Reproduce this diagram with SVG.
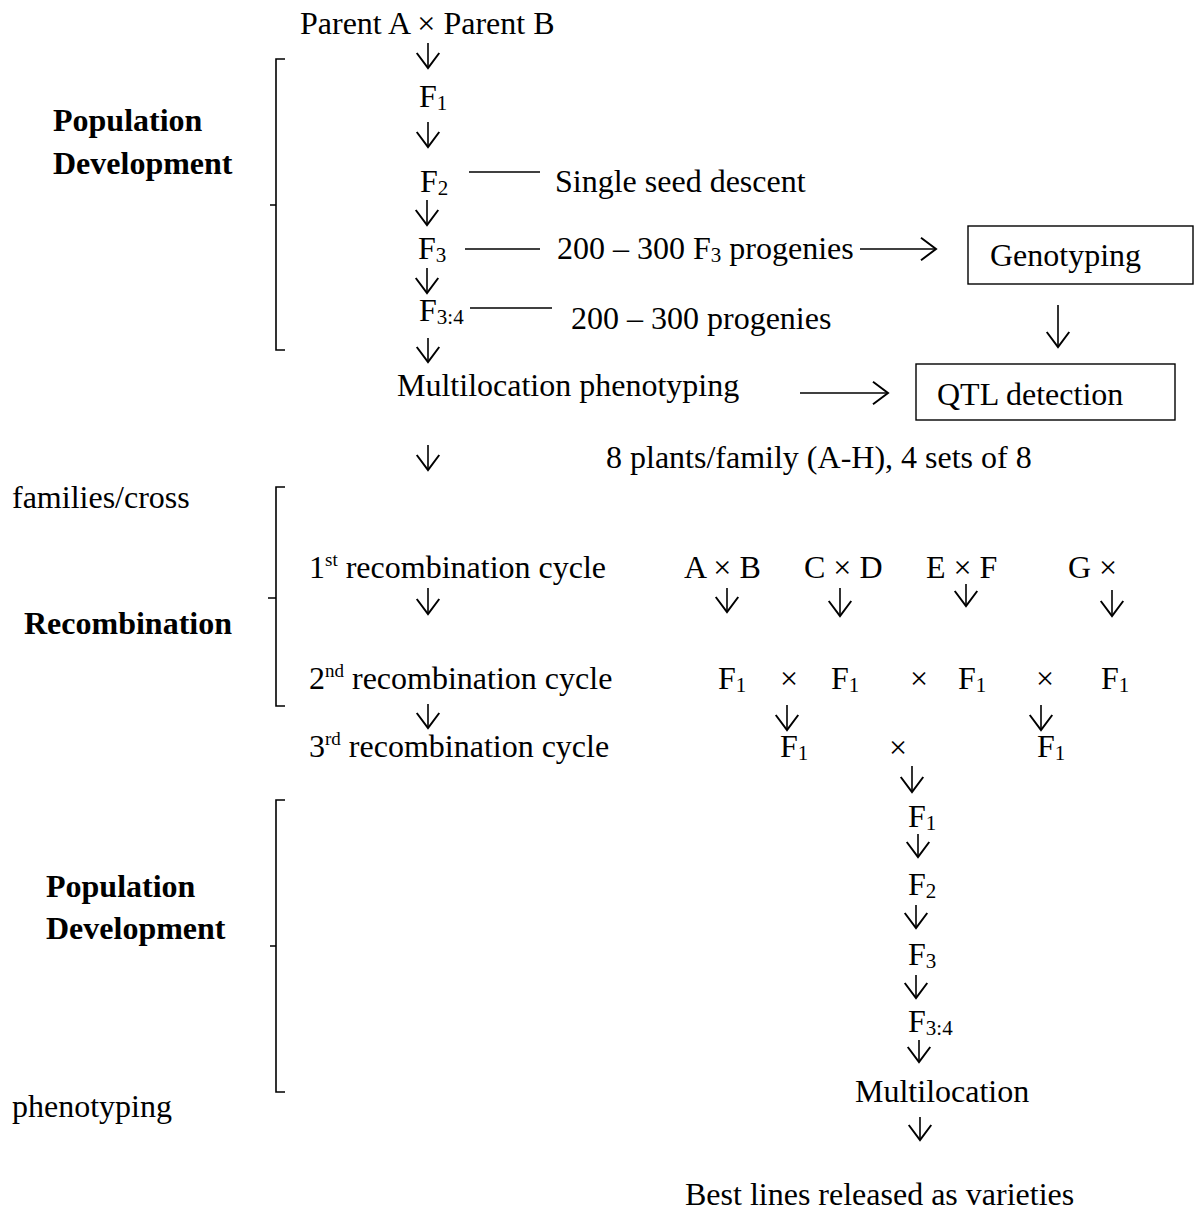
<svg xmlns="http://www.w3.org/2000/svg" width="1199" height="1218" viewBox="0 0 1199 1218">
<style>
text{font-family:"Liberation Serif","Times New Roman",serif;font-size:32px;fill:#000}
.b{font-weight:bold}
.sub{font-size:21px}
.sup{font-size:19px}
.c line,.c path{stroke:#000;stroke-width:1.6;fill:none}
.box{fill:#fff;stroke:#000;stroke-width:1.4}
</style>
<defs>
<marker id="ah" markerUnits="userSpaceOnUse" markerWidth="30" markerHeight="30" viewBox="-14 -12 16 24" refX="0" refY="0" orient="auto">
<path d="M-12,-9 L0,0 L-12,9" fill="none" stroke="#000" stroke-width="1.6"/>
</marker>
</defs>
<g id="parents"><text x="300" y="34">Parent A × Parent B</text></g>
<g id="label-popdev1"><text class="b" x="53" y="131">Population</text><text class="b" x="53" y="174">Development</text></g>
<g id="f1"><text x="419" y="107">F<tspan class="sub" dy="3">1</tspan></text></g>
<g id="f2"><text x="420" y="192">F<tspan class="sub" dy="3">2</tspan></text></g>
<g id="ssd"><text x="555" y="192">Single seed descent</text></g>
<g id="f3"><text x="418" y="259">F<tspan class="sub" dy="3">3</tspan></text></g>
<g id="f3prog"><text x="557" y="259">200 – 300 F<tspan class="sub" dy="3">3</tspan><tspan dy="-3"> progenies</tspan></text></g>
<g id="genotyping"><rect class="box" x="968" y="226" width="225" height="58"/><text x="990" y="266">Genotyping</text></g>
<g id="f34"><text x="419" y="321">F<tspan class="sub" dy="3">3:4</tspan></text></g>
<g id="prog"><text x="571" y="329">200 – 300 progenies</text></g>
<g id="multiloc1"><text x="397" y="396">Multilocation phenotyping</text></g>
<g id="qtl"><rect class="box" x="916" y="364" width="259" height="56"/><text x="937" y="405">QTL detection</text></g>
<g id="plants"><text x="606" y="468">8 plants/family (A-H), 4 sets of 8</text></g>
<g id="families"><text x="12" y="508">families/cross</text></g>
<g id="label-recomb"><text class="b" x="24" y="634">Recombination</text></g>
<g id="cycle1"><text x="309" y="578">1<tspan class="sup" dy="-12">st</tspan><tspan dy="12"> recombination cycle</tspan></text></g>
<g id="cycle2"><text x="309" y="689">2<tspan class="sup" dy="-12">nd</tspan><tspan dy="12"> recombination cycle</tspan></text></g>
<g id="cycle3"><text x="309" y="757">3<tspan class="sup" dy="-12">rd</tspan><tspan dy="12"> recombination cycle</tspan></text></g>
<g id="axb"><text x="684" y="578">A × B</text></g>
<g id="cxd"><text x="804" y="578">C × D</text></g>
<g id="exf"><text x="926" y="578">E × F</text></g>
<g id="gx"><text x="1068" y="578">G ×</text></g>
<g id="row2">
<text x="718" y="689">F<tspan class="sub" dy="3">1</tspan></text>
<text x="780" y="689">×</text>
<text x="831" y="689">F<tspan class="sub" dy="3">1</tspan></text>
<text x="910" y="689">×</text>
<text x="958" y="689">F<tspan class="sub" dy="3">1</tspan></text>
<text x="1036" y="689">×</text>
<text x="1101" y="689">F<tspan class="sub" dy="3">1</tspan></text>
</g>
<g id="row3">
<text x="780" y="757">F<tspan class="sub" dy="3">1</tspan></text>
<text x="889" y="758">×</text>
<text x="1037" y="757">F<tspan class="sub" dy="3">1</tspan></text>
</g>
<g id="label-popdev2"><text class="b" x="46" y="897">Population</text><text class="b" x="46" y="939">Development</text></g>
<g id="f1b"><text x="908" y="827">F<tspan class="sub" dy="3">1</tspan></text></g>
<g id="f2b"><text x="908" y="895">F<tspan class="sub" dy="3">2</tspan></text></g>
<g id="f3b"><text x="908" y="965">F<tspan class="sub" dy="3">3</tspan></text></g>
<g id="f34b"><text x="908" y="1032">F<tspan class="sub" dy="3">3:4</tspan></text></g>
<g id="multiloc2"><text x="855" y="1102">Multilocation</text></g>
<g id="phenotyping"><text x="12" y="1117">phenotyping</text></g>
<g id="best"><text x="685" y="1205">Best lines released as varieties</text></g>
<g id="brackets" class="c">
<path d="M285,59 H276 V350 H285 M276,205 H270"/>
<path d="M285,487 H276 V706 H285 M276,598 H268"/>
<path d="M285,800 H276 V1092 H285 M276,946 H270"/>
</g>
<g id="connectors" class="c">
<line x1="428" y1="43" x2="428" y2="68" marker-end="url(#ah)"/>
<line x1="428" y1="122" x2="428" y2="147" marker-end="url(#ah)"/>
<line x1="469" y1="172" x2="540" y2="172"/>
<line x1="427" y1="200" x2="427" y2="225" marker-end="url(#ah)"/>
<line x1="465" y1="249" x2="540" y2="249"/>
<line x1="860" y1="249" x2="936" y2="249" marker-end="url(#ah)"/>
<line x1="427" y1="268" x2="427" y2="293" marker-end="url(#ah)"/>
<line x1="470" y1="308" x2="552" y2="308"/>
<line x1="1058" y1="305" x2="1058" y2="347" marker-end="url(#ah)"/>
<line x1="428" y1="338" x2="428" y2="362" marker-end="url(#ah)"/>
<line x1="800" y1="393" x2="888" y2="393" marker-end="url(#ah)"/>
<line x1="428" y1="445" x2="428" y2="470" marker-end="url(#ah)"/>
<line x1="428" y1="588" x2="428" y2="614" marker-end="url(#ah)"/>
<line x1="727" y1="588" x2="727" y2="612" marker-end="url(#ah)"/>
<line x1="840" y1="588" x2="840" y2="616" marker-end="url(#ah)"/>
<line x1="966" y1="584" x2="966" y2="606" marker-end="url(#ah)"/>
<line x1="1112" y1="590" x2="1112" y2="616" marker-end="url(#ah)"/>
<line x1="428" y1="704" x2="428" y2="728" marker-end="url(#ah)"/>
<line x1="787" y1="705" x2="787" y2="730" marker-end="url(#ah)"/>
<line x1="1041" y1="705" x2="1041" y2="730" marker-end="url(#ah)"/>
<line x1="912" y1="766" x2="912" y2="792" marker-end="url(#ah)"/>
<line x1="918" y1="834" x2="918" y2="857" marker-end="url(#ah)"/>
<line x1="916" y1="905" x2="916" y2="928" marker-end="url(#ah)"/>
<line x1="916" y1="975" x2="916" y2="998" marker-end="url(#ah)"/>
<line x1="919" y1="1040" x2="919" y2="1062" marker-end="url(#ah)"/>
<line x1="920" y1="1117" x2="920" y2="1140" marker-end="url(#ah)"/>
</g>
</svg>
